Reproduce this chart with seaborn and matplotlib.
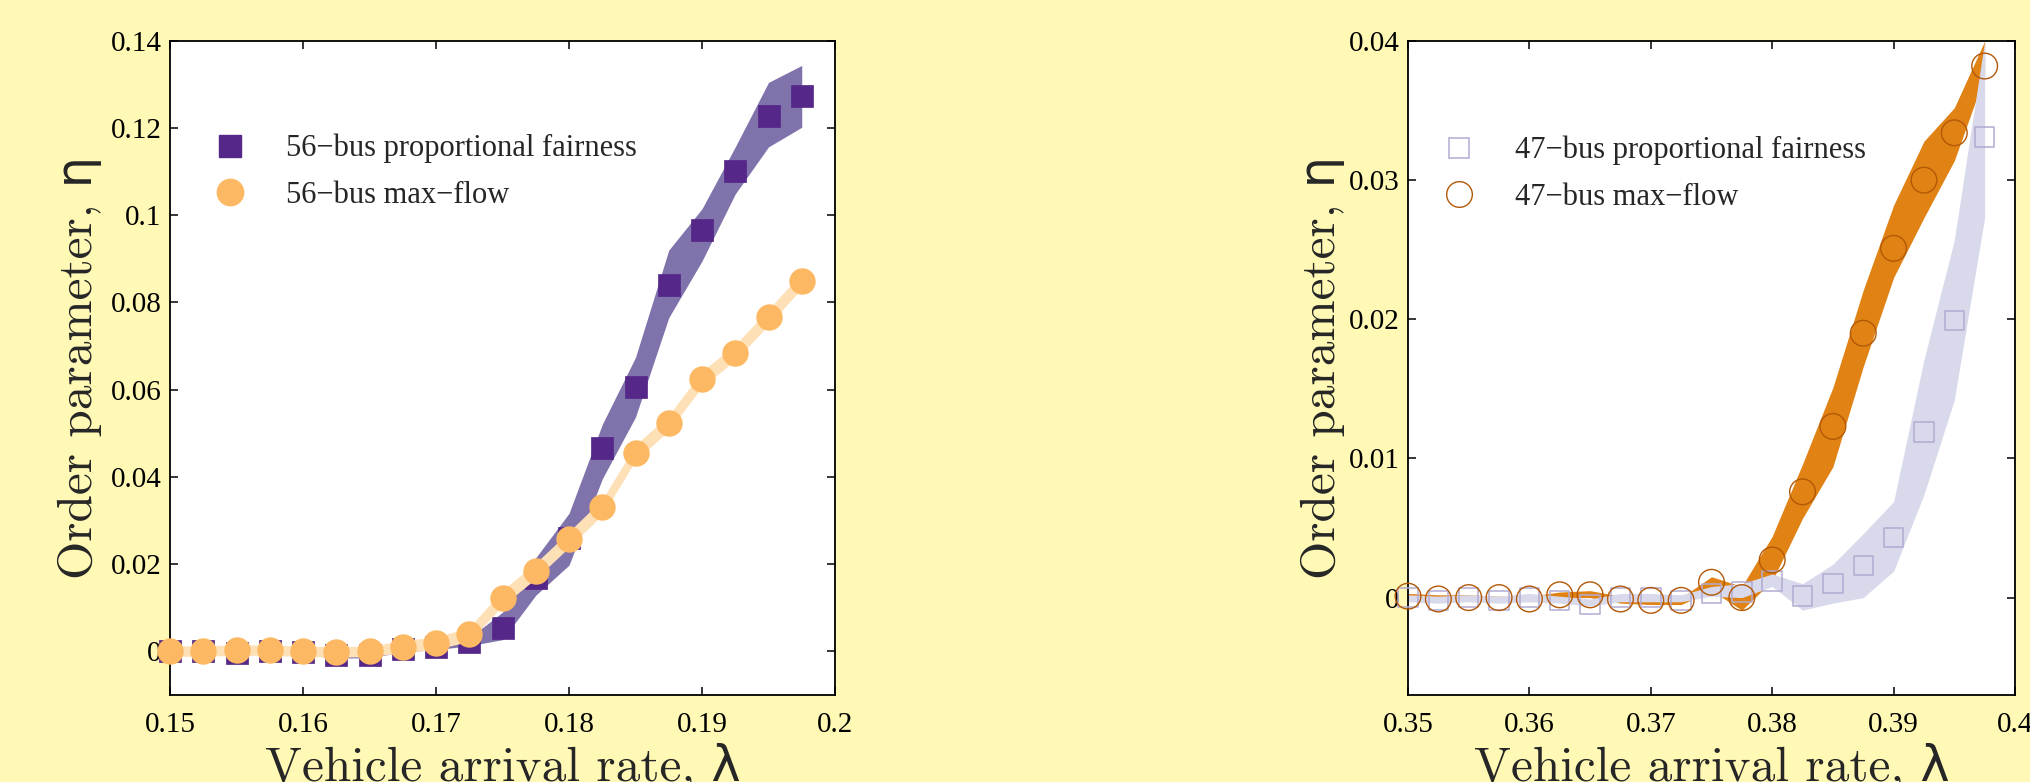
import numpy as np
import pandas as pd
import matplotlib
matplotlib.use("Agg")
import matplotlib.pyplot as plt
from matplotlib.lines import Line2D
import seaborn as sns

# ---------------- data: left panel (56-bus) ----------------
lam56 = [0.15, 0.1525, 0.155, 0.1575, 0.16, 0.1625, 0.165, 0.1675, 0.17, 0.1725,
         0.175, 0.1775, 0.18, 0.1825, 0.185, 0.1875, 0.19, 0.1925, 0.195, 0.1975]
pf56 = [0.0, 0.0, -0.0004, 0.0, -0.0003, -0.001, -0.001, 0.0005, 0.001, 0.002,
        0.0053, 0.0168, 0.026, 0.0466, 0.0606, 0.0839, 0.0966, 0.1102, 0.1227, 0.1274]
pf56_lo = [-0.0007, -0.0007, -0.0009, -0.0007, -0.0009, -0.0016, -0.0016, -0.0002, 0.0003, 0.0012,
           0.0026, 0.0128, 0.0197, 0.0395, 0.0537, 0.0765, 0.0895, 0.1049, 0.1157, 0.1202]
pf56_hi = [0.0007, 0.0007, 0.0002, 0.0007, 0.0003, -0.0004, -0.0004, 0.0012, 0.0018, 0.003,
           0.0089, 0.0214, 0.0316, 0.052, 0.0674, 0.092, 0.1015, 0.1157, 0.1305, 0.1344]
mf56 = [0.0, 0.0, 0.0002, 0.0002, -0.0001, -0.0002, -0.0001, 0.001, 0.0018, 0.0038,
        0.0122, 0.0184, 0.0256, 0.033, 0.0455, 0.0523, 0.0624, 0.0685, 0.0766, 0.085]
mf56_lo = [-0.0012, -0.0012, -0.001, -0.001, -0.0013, -0.0014, -0.0013, -0.0004, 0.0004, 0.0022,
           0.0104, 0.0166, 0.0238, 0.0312, 0.0437, 0.0505, 0.0606, 0.0667, 0.0748, 0.0832]
mf56_hi = [0.0012, 0.0012, 0.0014, 0.0014, 0.0011, 0.001, 0.0011, 0.0024, 0.0032, 0.0054,
           0.014, 0.0202, 0.0274, 0.0348, 0.0473, 0.0541, 0.0642, 0.0703, 0.0784, 0.0868]

# ---------------- data: right panel (47-bus) ----------------
lam47 = [0.35, 0.3525, 0.355, 0.3575, 0.36, 0.3625, 0.365, 0.3675, 0.37, 0.3725,
         0.375, 0.3775, 0.38, 0.3825, 0.385, 0.3875, 0.39, 0.3925, 0.395, 0.3975]
pf47 = [0.0, -0.0002, 0.0, -0.0002, 0.0, -0.0002, -0.0005, 0.0, 0.0, -0.0002,
        0.0003, 0.0004, 0.0012, 0.0001, 0.001, 0.0023, 0.0043, 0.0119, 0.0199, 0.0331]
pf47_lo = [-0.0003, -0.0004, -0.0003, -0.0004, -0.0003, -0.0004, -0.0006, -0.0003, -0.0003, -0.0003,
           0.0001, 0.0, 0.0008, -0.0009, -0.0004, 0.0, 0.0019, 0.0074, 0.0142, 0.0273]
pf47_hi = [0.0002, 0.0001, 0.0002, 0.0001, 0.0003, 0.0001, -0.0001, 0.0003, 0.0003, 0.0002,
           0.0008, 0.001, 0.0017, 0.001, 0.0024, 0.0046, 0.0069, 0.0171, 0.0257, 0.04]
mf47 = [0.0001, -0.0001, 0.0, 0.0, -0.0001, 0.0002, 0.0002, -0.0001, -0.0002, -0.0002,
        0.0011, 0.0, 0.0027, 0.0076, 0.0123, 0.019, 0.0251, 0.030, 0.0334, 0.0382]
mf47_lo = [0.0, -0.0002, -0.0001, -0.0001, -0.0003, 0.0, 0.0, -0.0004, -0.0005, -0.0005,
           0.0005, -0.0009, 0.0012, 0.0057, 0.0094, 0.0166, 0.023, 0.0273, 0.0314, 0.0375]
mf47_hi = [0.0003, 0.0002, 0.0002, 0.0001, 0.0001, 0.0004, 0.0005, 0.0001, 0.0, 0.0,
           0.0015, 0.0008, 0.0044, 0.0096, 0.0151, 0.0221, 0.0282, 0.0328, 0.0352, 0.040]

labels56 = ["56\u2212bus proportional fairness", "56\u2212bus max\u2212flow"]
labels47 = ["47\u2212bus proportional fairness", "47\u2212bus max\u2212flow"]
xticks56 = [0.15, 0.16, 0.17, 0.18, 0.19, 0.2]
xtlab56 = ["0.15", "0.16", "0.17", "0.18", "0.19", "0.2"]
yticks56 = [0, 0.02, 0.04, 0.06, 0.08, 0.1, 0.12, 0.14]
ytlab56 = ["0", "0.02", "0.04", "0.06", "0.08", "0.1", "0.12", "0.14"]
xticks47 = [0.35, 0.36, 0.37, 0.38, 0.39, 0.4]
xtlab47 = ["0.35", "0.36", "0.37", "0.38", "0.39", "0.4"]
yticks47 = [0, 0.01, 0.02, 0.03, 0.04]
ytlab47 = ["0", "0.01", "0.02", "0.03", "0.04"]
xlabel_text = "Vehicle arrival rate, \u03bb"
ylabel_text = "Order parameter, \u03b7"

# PuOr colours
C_PURPLE_D = "#542788"
C_PURPLE_B = "#8073AC"
C_ORANGE_L = "#FDB863"
C_ORANGE_B = "#FEE0B6"
C_LAV_E = "#B2ABD2"
C_LAV_B = "#D8DAEB"
C_OR_B = "#E08214"
C_OR_E = "#B35806"
BG = "#FFF9B5"

sns.set_theme(style="ticks")
plt.rcParams["mathtext.fontset"] = "cm"
plt.rcParams["font.family"] = ["Liberation Serif", "DejaVu Serif"]

fig = plt.figure(figsize=(20.3, 7.82), dpi=100, facecolor=BG)
axL = fig.add_axes([170 / 2030, 1 - 695 / 782, 665 / 2030, 654 / 782])
axR = fig.add_axes([1408 / 2030, 1 - 695 / 782, 607 / 2030, 654 / 782])

d56 = pd.DataFrame({"lam": lam56, "pf": pf56, "mf": mf56})
d47 = pd.DataFrame({"lam": lam47, "pf": pf47, "mf": mf47})

# left panel
axL.fill_between(lam56, pf56_lo, pf56_hi, color=C_PURPLE_B, lw=0, zorder=1)
sns.scatterplot(data=d56, x="lam", y="pf", ax=axL, marker="s", s=16 ** 2,
                color=C_PURPLE_D, edgecolor=C_PURPLE_D, linewidth=0.5, zorder=2, clip_on=False)
axL.fill_between(lam56, mf56_lo, mf56_hi, color=C_ORANGE_B, lw=0, zorder=3)
sns.scatterplot(data=d56, x="lam", y="mf", ax=axL, marker="o", s=19 ** 2,
                color=C_ORANGE_L, edgecolor=C_ORANGE_L, linewidth=0, zorder=4, clip_on=False)

# right panel
axR.fill_between(lam47, mf47_lo, mf47_hi, color=C_OR_B, lw=0, zorder=1)
axR.fill_between(lam47, pf47_lo, pf47_hi, color=C_LAV_B, lw=0, zorder=2)
sns.scatterplot(data=d47, x="lam", y="pf", ax=axR, marker="s", s=14 ** 2,
                facecolor="none", edgecolor=C_LAV_E, linewidth=1.1, zorder=3, clip_on=False)
sns.scatterplot(data=d47, x="lam", y="mf", ax=axR, marker="o", s=18.5 ** 2,
                facecolor="none", edgecolor=C_OR_E, linewidth=1.0, zorder=4, clip_on=False)

def style(ax, xlim, ylim, xt, xtl, yt, ytl, ypad):
    ax.set_facecolor("white")
    ax.set_xlim(*xlim)
    ax.set_ylim(*ylim)
    ax.set_xticks(xt)
    ax.set_xticklabels(xtl)
    ax.set_yticks(yt)
    ax.set_yticklabels(ytl)
    ax.tick_params(direction="in", top=True, right=True, length=6, width=1.1,
                   labelsize=21, colors="black")
    ax.tick_params(axis="x", pad=12)
    ax.tick_params(axis="y", pad=6)
    for sp in ax.spines.values():
        sp.set_visible(True)
        sp.set_linewidth(1.3)
        sp.set_color("black")
    ax.set_xlabel(xlabel_text, fontsize=35.5, family=["cmr10", "DejaVu Sans"], labelpad=4)
    ax.set_ylabel(ylabel_text, fontsize=35.5, family=["cmr10", "DejaVu Sans"], labelpad=ypad)
    ax.grid(False)

style(axL, (0.15, 0.2), (-0.0101, 0.14), xticks56, xtlab56, yticks56, ytlab56, 6)
style(axR, (0.35, 0.4), (-0.007, 0.04), xticks47, xtlab47, yticks47, ytlab47, 3)

hL = [Line2D([], [], ls="none", marker="s", markersize=16, color=C_PURPLE_D),
      Line2D([], [], ls="none", marker="o", markersize=19, color=C_ORANGE_L)]
axL.legend(hL, labels56, loc="upper left", bbox_to_anchor=(0.067, 0.858), frameon=False,
           fontsize=22, handlelength=1.0, handletextpad=1.33, labelspacing=0.57,
           borderpad=0, borderaxespad=0)
hR = [Line2D([], [], ls="none", marker="s", markersize=14, markerfacecolor="none",
             markeredgecolor=C_LAV_E, markeredgewidth=1.1),
      Line2D([], [], ls="none", marker="o", markersize=18.5, markerfacecolor="none",
             markeredgecolor=C_OR_E, markeredgewidth=1.0)]
axR.legend(hR, labels47, loc="upper left", bbox_to_anchor=(0.059, 0.855), frameon=False,
           fontsize=22, handlelength=1.0, handletextpad=1.33, labelspacing=0.57,
           borderpad=0, borderaxespad=0)

fig.savefig("out.png", dpi=100, facecolor=BG)
